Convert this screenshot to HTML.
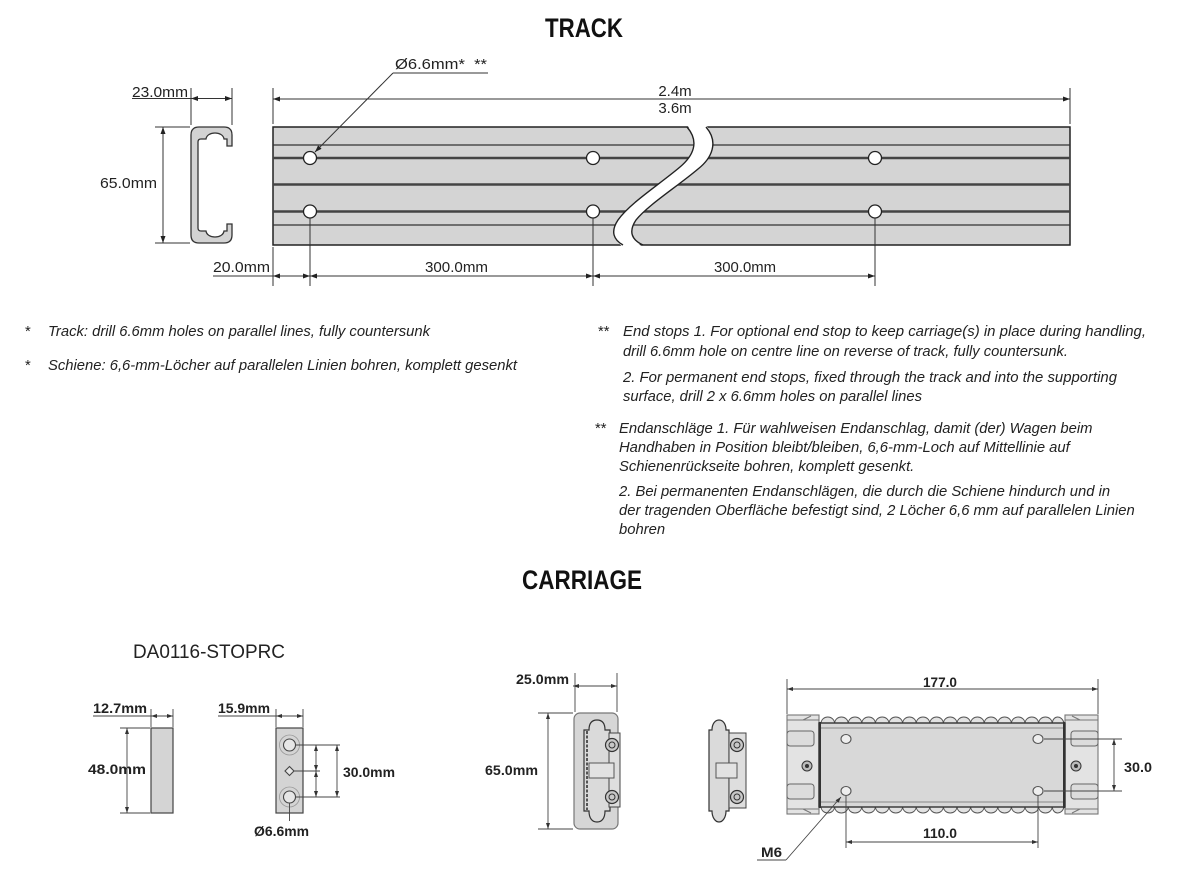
<!DOCTYPE html>
<html><head><meta charset="utf-8"><style>
html,body{margin:0;padding:0;background:#fff;}
svg{display:block;}
</style></head><body>
<svg width="1200" height="880" viewBox="0 0 1200 880" xmlns="http://www.w3.org/2000/svg" font-family="'Liberation Sans', Arial, sans-serif">
<defs>
<marker id="ar" viewBox="0 0 10 10" refX="10" refY="5" markerWidth="7" markerHeight="5" preserveAspectRatio="none" markerUnits="userSpaceOnUse" orient="auto-start-reverse"><path d="M0,0 L10,5 L0,10 z" fill="#222"/></marker>
<marker id="as" viewBox="0 0 10 10" refX="10" refY="5" markerWidth="6" markerHeight="4" preserveAspectRatio="none" markerUnits="userSpaceOnUse" orient="auto-start-reverse"><path d="M0,0 L10,5 L0,10 z" fill="#333"/></marker>
</defs>
<rect width="1200" height="880" fill="#fff"/>

<!-- Titles -->
<text x="545" y="37" font-size="27" font-weight="bold" fill="#111" textLength="78" lengthAdjust="spacingAndGlyphs">TRACK</text>
<text x="522" y="589" font-size="27" font-weight="bold" fill="#111" textLength="120" lengthAdjust="spacingAndGlyphs">CARRIAGE</text>

<!-- ===== TRACK profile ===== -->
<g fill="#222" font-size="15">
<text x="132" y="97" textLength="56" lengthAdjust="spacingAndGlyphs">23.0mm</text>
<text x="100" y="188" textLength="57" lengthAdjust="spacingAndGlyphs">65.0mm</text>
<text x="395" y="69" textLength="92" lengthAdjust="spacingAndGlyphs">Ø6.6mm*&#160;&#160;**</text>
<text x="675" y="96" text-anchor="middle">2.4m</text>
<text x="675" y="113" text-anchor="middle">3.6m</text>
<text x="213" y="272" textLength="57" lengthAdjust="spacingAndGlyphs">20.0mm</text>
<text x="425" y="272" textLength="63" lengthAdjust="spacingAndGlyphs">300.0mm</text>
<text x="714" y="272" textLength="62" lengthAdjust="spacingAndGlyphs">300.0mm</text>
</g>

<g stroke="#333" stroke-width="1" fill="none">
<!-- 23.0 dim -->
<line x1="191" y1="88" x2="191" y2="125"/>
<line x1="232" y1="88" x2="232" y2="125"/>
<line x1="132" y1="98.5" x2="191" y2="98.5"/>
<line x1="191" y1="98.5" x2="232" y2="98.5" marker-start="url(#ar)" marker-end="url(#ar)"/>
<!-- 65.0 dim -->
<line x1="155" y1="127" x2="190" y2="127"/>
<line x1="155" y1="243" x2="190" y2="243"/>
<line x1="163" y1="127" x2="163" y2="243" marker-start="url(#ar)" marker-end="url(#ar)"/>
<!-- 2.4m dim -->
<line x1="273" y1="88" x2="273" y2="124"/>
<line x1="1070" y1="88" x2="1070" y2="124"/>
<line x1="273" y1="99" x2="1070" y2="99" marker-start="url(#ar)" marker-end="url(#ar)"/>
<!-- bottom dims -->
<line x1="273" y1="247" x2="273" y2="286"/>
<line x1="310" y1="218" x2="310" y2="286"/>
<line x1="593" y1="218" x2="593" y2="286"/>
<line x1="875" y1="218" x2="875" y2="286"/>
<line x1="213" y1="276" x2="273" y2="276"/>
<line x1="273" y1="276" x2="310" y2="276" marker-start="url(#ar)" marker-end="url(#ar)"/>
<line x1="310" y1="276" x2="593" y2="276" marker-start="url(#ar)" marker-end="url(#ar)"/>
<line x1="593" y1="276" x2="875" y2="276" marker-start="url(#ar)" marker-end="url(#ar)"/>
</g>

<!-- C profile -->
<path d="M199,127 L224,127 Q232,127 232,135 L232,146 L227,146 L227,139 L224,139 C223,131 207,131 206,139 L201,139 Q198,139 198,142 L198,228 Q198,231 201,231 L206,231 C207,239 223,239 224,231 L227,231 L227,224 L232,224 L232,235 Q232,243 224,243 L199,243 Q191,243 191,235 L191,135 Q191,127 199,127 Z" fill="#d3d3d3" stroke="#333" stroke-width="1.3"/>

<!-- Track body -->
<rect x="273" y="127" width="797" height="118" fill="#d4d4d4" stroke="#222" stroke-width="1.5"/>
<g stroke="#333">
<line x1="273" y1="145" x2="1070" y2="145" stroke-width="1.2"/>
<line x1="273" y1="158" x2="1070" y2="158" stroke-width="2.6" stroke="#444"/>
<line x1="273" y1="184.5" x2="1070" y2="184.5" stroke-width="2.6" stroke="#444"/>
<line x1="273" y1="211.5" x2="1070" y2="211.5" stroke-width="2.6" stroke="#444"/>
<line x1="273" y1="225" x2="1070" y2="225" stroke-width="1.2"/>
</g>
<g fill="#fff" stroke="#222" stroke-width="1.3">
<circle cx="310" cy="158" r="6.5"/>
<circle cx="310" cy="211.5" r="6.5"/>
<circle cx="593" cy="158" r="6.5"/>
<circle cx="593" cy="211.5" r="6.5"/>
<circle cx="875" cy="158" r="6.5"/>
<circle cx="875" cy="211.5" r="6.5"/>
</g>
<!-- break -->
<path d="M687,125 C700,142 693,156 680,167 C660,184 630,203 618,220 C610,232 614,240 623,247 L643,247 C632,240 628,232 636,220 C648,205 678,186 698,169 C712,158 719,142 706,125 Z" fill="#fff"/>
<g fill="none" stroke="#222" stroke-width="1.4">
<path d="M687,127 C700,142 693,156 680,167 C660,184 630,203 618,220 C610,232 614,240 623,245"/>
<path d="M706,127 C719,142 712,158 698,169 C678,186 648,205 636,220 C628,232 632,240 643,245"/>
</g>
<!-- lines drawn over the track -->
<g stroke="#333" stroke-width="1" fill="none">
<line x1="310" y1="218" x2="310" y2="245"/>
<line x1="593" y1="218" x2="593" y2="245"/>
<line x1="875" y1="218" x2="875" y2="245"/>
<line x1="393" y1="73" x2="488" y2="73"/>
<line x1="393" y1="73" x2="315" y2="152" marker-end="url(#ar)"/>
</g>

<!-- ===== Notes ===== -->
<g font-size="14.8" font-style="italic" fill="#222">
<text x="25" y="336" font-style="normal">*</text>
<text x="48" y="336" textLength="382" lengthAdjust="spacingAndGlyphs">Track: drill 6.6mm holes on parallel lines, fully countersunk</text>
<text x="25" y="370" font-style="normal">*</text>
<text x="48" y="370" textLength="469" lengthAdjust="spacingAndGlyphs">Schiene: 6,6-mm-Löcher auf parallelen Linien bohren, komplett gesenkt</text>

<text x="598" y="336" font-style="normal">**</text>
<text x="623" y="336" textLength="523" lengthAdjust="spacingAndGlyphs">End stops 1. For optional end stop to keep carriage(s) in place during handling,</text>
<text x="623" y="356" textLength="445" lengthAdjust="spacingAndGlyphs">drill 6.6mm hole on centre line on reverse of track, fully countersunk.</text>
<text x="623" y="382" textLength="494" lengthAdjust="spacingAndGlyphs">2. For permanent end stops, fixed through the track and into the supporting</text>
<text x="623" y="401" textLength="299" lengthAdjust="spacingAndGlyphs">surface, drill 2 x 6.6mm holes on parallel lines</text>

<text x="595" y="433" font-style="normal">**</text>
<text x="619" y="433">Endanschläge 1. Für wahlweisen Endanschlag, damit (der) Wagen beim</text>
<text x="619" y="452">Handhaben in Position bleibt/bleiben, 6,6-mm-Loch auf Mittellinie auf</text>
<text x="619" y="471">Schienenrückseite bohren, komplett gesenkt.</text>
<text x="619" y="496">2. Bei permanenten Endanschlägen, die durch die Schiene hindurch und in</text>
<text x="619" y="515">der tragenden Oberfläche befestigt sind, 2 Löcher 6,6 mm auf parallelen Linien</text>
<text x="619" y="534">bohren</text>
</g>

<!-- ===== CARRIAGE ===== -->
<text x="133" y="658" font-size="19" fill="#222" textLength="152" lengthAdjust="spacingAndGlyphs">DA0116-STOPRC</text>

<g font-size="14" font-weight="bold" fill="#222">
<text x="93" y="713" textLength="54" lengthAdjust="spacingAndGlyphs">12.7mm</text>
<text x="88" y="774" textLength="58" lengthAdjust="spacingAndGlyphs">48.0mm</text>
<text x="218" y="713" textLength="52" lengthAdjust="spacingAndGlyphs">15.9mm</text>
<text x="343" y="777" textLength="52" lengthAdjust="spacingAndGlyphs">30.0mm</text>
<text x="254" y="836" textLength="55" lengthAdjust="spacingAndGlyphs">Ø6.6mm</text>
<text x="516" y="684" textLength="53" lengthAdjust="spacingAndGlyphs">25.0mm</text>
<text x="485" y="775" textLength="53" lengthAdjust="spacingAndGlyphs">65.0mm</text>
<text x="923" y="687" textLength="34" lengthAdjust="spacingAndGlyphs">177.0</text>
<text x="923" y="838" textLength="34" lengthAdjust="spacingAndGlyphs">110.0</text>
<text x="1124" y="772" textLength="28" lengthAdjust="spacingAndGlyphs">30.0</text>
<text x="761" y="857" textLength="21" lengthAdjust="spacingAndGlyphs">M6</text>
</g>

<!-- stopper side -->
<rect x="151" y="728" width="22" height="85" fill="#d4d4d4" stroke="#444" stroke-width="1.2"/>
<g stroke="#444" stroke-width="0.9" fill="none">
<line x1="151" y1="709" x2="151" y2="727"/>
<line x1="173" y1="709" x2="173" y2="727"/>
<line x1="93" y1="716" x2="151" y2="716"/>
<line x1="151" y1="716" x2="173" y2="716" marker-start="url(#as)" marker-end="url(#as)"/>
<line x1="120" y1="728" x2="150" y2="728"/>
<line x1="120" y1="813" x2="150" y2="813"/>
<line x1="127" y1="728" x2="127" y2="813" marker-start="url(#as)" marker-end="url(#as)"/>
</g>

<!-- stopper front -->
<rect x="276" y="728" width="27" height="85" fill="#d4d4d4" stroke="#444" stroke-width="1.2"/>
<g stroke="#999" stroke-width="0.8" fill="none">
<circle cx="289.5" cy="745" r="10"/>
<circle cx="289.5" cy="797" r="10"/>
</g>
<g stroke="#444" stroke-width="1.1" fill="#e6e6e6">
<circle cx="289.5" cy="745" r="6"/>
<circle cx="289.5" cy="797" r="6"/>
<path d="M289.5,766.5 L294,771 L289.5,775.5 L285,771 Z"/>
</g>
<g stroke="#444" stroke-width="0.9" fill="none">
<line x1="276" y1="709" x2="276" y2="727"/>
<line x1="303" y1="709" x2="303" y2="727"/>
<line x1="218" y1="716" x2="276" y2="716"/>
<line x1="276" y1="716" x2="303" y2="716" marker-start="url(#as)" marker-end="url(#as)"/>
<line x1="296" y1="745" x2="340" y2="745"/>
<line x1="296" y1="797" x2="340" y2="797"/>
<line x1="294" y1="771" x2="320" y2="771"/>
<line x1="316" y1="745" x2="316" y2="771" marker-start="url(#as)" marker-end="url(#as)"/>
<line x1="316" y1="771" x2="316" y2="797" marker-start="url(#as)" marker-end="url(#as)"/>
<line x1="337" y1="745" x2="337" y2="797" marker-start="url(#as)" marker-end="url(#as)"/>
<line x1="289.5" y1="803" x2="289.5" y2="821"/>
</g>

<!-- carriage side view 1 -->
<rect x="574" y="713" width="44" height="116" rx="6" fill="#d6d6d6" stroke="#777" stroke-width="1.2"/>
<path d="M584,730 L589,730 C589,723 592,720 597,720 C602,720 605,723 605,730 L610,730 L610,811 L605,811 C605,818 602,822 597,822 C592,822 589,818 589,811 L584,811 Z" fill="#dadada" stroke="#333" stroke-width="1.2"/>
<line x1="587" y1="731" x2="587" y2="810" stroke="#555" stroke-width="2" stroke-dasharray="3,1.5"/>
<rect x="609" y="733" width="11" height="74" fill="#dedede" stroke="#444" stroke-width="1"/>
<g stroke="#333" stroke-width="1.2" fill="#c8c8c8">
<circle cx="612" cy="745" r="6.5"/>
<circle cx="612" cy="797" r="6.5"/>
</g>
<g stroke="#333" stroke-width="1" fill="none">
<circle cx="612" cy="745" r="3"/>
<circle cx="612" cy="797" r="3"/>
</g>
<rect x="589" y="763" width="25" height="15" fill="#e2e2e2" stroke="#555" stroke-width="1"/>
<g stroke="#444" stroke-width="0.9" fill="none">
<line x1="575" y1="673" x2="575" y2="712"/>
<line x1="617" y1="673" x2="617" y2="712"/>
<line x1="573" y1="686" x2="617" y2="686" marker-start="url(#as)" marker-end="url(#as)"/>
<line x1="538" y1="713" x2="573" y2="713"/>
<line x1="538" y1="829" x2="573" y2="829"/>
<line x1="548" y1="713" x2="548" y2="829" marker-start="url(#as)" marker-end="url(#as)"/>
</g>

<!-- carriage side view 2 -->
<path d="M709,730 L712,730 C712,724 715,720 719,720 C723,720 726,724 726,730 L729,730 L729,811 L726,811 C726,817 723,822 719,822 C715,822 712,817 712,811 L709,811 Z" fill="#dadada" stroke="#333" stroke-width="1.2"/>
<rect x="729" y="733" width="17" height="75" fill="#dedede" stroke="#444" stroke-width="1"/>
<g stroke="#333" stroke-width="1.2" fill="#c8c8c8">
<circle cx="737" cy="745" r="6.5"/>
<circle cx="737" cy="797" r="6.5"/>
</g>
<g stroke="#333" stroke-width="1" fill="none">
<circle cx="737" cy="745" r="3"/>
<circle cx="737" cy="797" r="3"/>
</g>
<rect x="716" y="763" width="21" height="15" fill="#e2e2e2" stroke="#555" stroke-width="1"/>

<!-- carriage top view -->
<g stroke="#777" stroke-width="1.1" fill="#e3e3e3">
<rect x="787" y="715" width="32" height="99"/>
<rect x="1065" y="715" width="33" height="99"/>
</g>
<g stroke="#777" stroke-width="1" fill="none">
<line x1="787" y1="720" x2="819" y2="720"/>
<line x1="787" y1="809" x2="819" y2="809"/>
<line x1="1065" y1="720" x2="1098" y2="720"/>
<line x1="1065" y1="809" x2="1098" y2="809"/>
<line x1="803" y1="720" x2="811" y2="716"/>
<line x1="1080" y1="720" x2="1072" y2="716"/>
<line x1="803" y1="809" x2="811" y2="813"/>
<line x1="1080" y1="809" x2="1072" y2="813"/>
</g>
<g stroke="#666" stroke-width="1" fill="#dcdcdc">
<rect x="787" y="731" width="27" height="15" rx="3"/>
<rect x="787" y="784" width="27" height="15" rx="3"/>
<rect x="1071" y="731" width="27" height="15" rx="3"/>
<rect x="1071" y="784" width="27" height="15" rx="3"/>
<circle cx="807" cy="766" r="5" fill="#bbb" stroke="#333"/>
<circle cx="1076" cy="766" r="5" fill="#bbb" stroke="#333"/>
</g>
<circle cx="807" cy="766" r="2" fill="#333"/>
<circle cx="1076" cy="766" r="2" fill="#333"/>

<g stroke="#555" stroke-width="1" fill="#e2e2e2">
<path d="M821,723 C822,715 833.6,715 834.6,723 C835.6,715 847.2,715 848.2,723 C849.2,715 860.8,715 861.8,723 C862.8,715 874.4,715 875.4,723 C876.4,715 888,715 889,723 C890,715 901.6,715 902.6,723 C903.6,715 915.2,715 916.2,723 C917.2,715 928.8,715 929.8,723 C930.8,715 942.4,715 943.4,723 C944.4,715 956,715 957,723 C958,715 969.6,715 970.6,723 C971.6,715 983.2,715 984.2,723 C985.2,715 996.8,715 997.8,723 C998.8,715 1010.4,715 1011.4,723 C1012.4,715 1024,715 1025,723 C1026,715 1037.6,715 1038.6,723 C1039.6,715 1051.2,715 1052.2,723 C1053.2,715 1062,715 1064,723 Z"/>
<path d="M821,807 C822,815 833.6,815 834.6,807 C835.6,815 847.2,815 848.2,807 C849.2,815 860.8,815 861.8,807 C862.8,815 874.4,815 875.4,807 C876.4,815 888,815 889,807 C890,815 901.6,815 902.6,807 C903.6,815 915.2,815 916.2,807 C917.2,815 928.8,815 929.8,807 C930.8,815 942.4,815 943.4,807 C944.4,815 956,815 957,807 C958,815 969.6,815 970.6,807 C971.6,815 983.2,815 984.2,807 C985.2,815 996.8,815 997.8,807 C998.8,815 1010.4,815 1011.4,807 C1012.4,815 1024,815 1025,807 C1026,815 1037.6,815 1038.6,807 C1039.6,815 1051.2,815 1052.2,807 C1053.2,815 1062,815 1064,807 Z"/>
</g>
<rect x="819" y="723" width="246" height="84" fill="#d8d8d8" stroke="#333" stroke-width="1.4"/>
<g stroke="#888" stroke-width="1">
<line x1="819" y1="728" x2="1065" y2="728"/>
<line x1="819" y1="802" x2="1065" y2="802"/>
</g>
<g stroke="#333" stroke-width="2">
<line x1="820" y1="722" x2="820" y2="808"/>
<line x1="1064" y1="722" x2="1064" y2="808"/>
</g>
<g fill="#eee" stroke="#555" stroke-width="1.1">
<ellipse cx="846" cy="739" rx="5" ry="4.5"/>
<ellipse cx="1038" cy="739" rx="5" ry="4.5"/>
<ellipse cx="846" cy="791" rx="5" ry="4.5"/>
<ellipse cx="1038" cy="791" rx="5" ry="4.5"/>
</g>
<g stroke="#444" stroke-width="0.9" fill="none">
<line x1="787" y1="679" x2="787" y2="714"/>
<line x1="1098" y1="679" x2="1098" y2="714"/>
<line x1="787" y1="689" x2="1098" y2="689" marker-start="url(#as)" marker-end="url(#as)"/>
<line x1="1044" y1="739" x2="1122" y2="739"/>
<line x1="1044" y1="791" x2="1122" y2="791"/>
<line x1="1114" y1="739" x2="1114" y2="791" marker-start="url(#as)" marker-end="url(#as)"/>
<line x1="846" y1="796" x2="846" y2="848"/>
<line x1="1038" y1="796" x2="1038" y2="848"/>
<line x1="846" y1="842" x2="1038" y2="842" marker-start="url(#as)" marker-end="url(#as)"/>
<line x1="757" y1="860" x2="786" y2="860"/>
<line x1="786" y1="860" x2="841" y2="797" marker-end="url(#as)"/>
</g>
</svg>
</body></html>
